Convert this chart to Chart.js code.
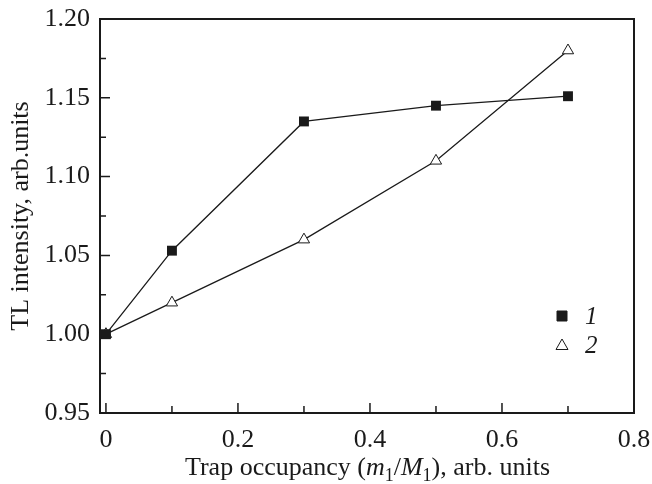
<!DOCTYPE html>
<html>
<head>
<meta charset="utf-8">
<script src="https://cdn.jsdelivr.net/npm/chart.js@4"></script>
<style>
html,body{margin:0;padding:0;background:#fff;}
#wrap{width:652px;height:484px;position:relative;}
</style>
</head>
<body>
<div id="wrap"><canvas id="c" width="652" height="484"></canvas></div>
<script>
const xValues = [0, 0.1, 0.3, 0.5, 0.7];
const series1 = [1.000, 1.053, 1.135, 1.145, 1.151];
const series2 = [1.000, 1.020, 1.060, 1.110, 1.180];
const seriesNames = ['1', '2'];
const xMajorTicks = [0, 0.2, 0.4, 0.6, 0.8];
const xMinorTicks = [0.1, 0.3, 0.5, 0.7];
const yMajorTicks = [0.95, 1.00, 1.05, 1.10, 1.15, 1.20];
const yMinorTicks = [0.975, 1.025, 1.075, 1.125, 1.175];

const FONT = '"Liberation Serif", "Times New Roman", serif';

const pts = (ys) => xValues.map((x, i) => ({x: x, y: ys[i]}));

const decor = {
  id: 'decor',
  afterDatasetsDraw(chart) {
    const ctx = chart.ctx;
    const a = chart.chartArea;
    const xs = chart.scales.x, ys = chart.scales.y;
    ctx.save();
    ctx.strokeStyle = '#1a1a1a';
    // frame
    ctx.lineWidth = 2;
    ctx.strokeRect(a.left, a.top, a.right - a.left, a.bottom - a.top);
    ctx.lineWidth = 1.5;
    ctx.beginPath();
    xMajorTicks.forEach(v => { const p = xs.getPixelForValue(v); ctx.moveTo(p, a.bottom); ctx.lineTo(p, a.bottom - 10); });
    xMinorTicks.forEach(v => { const p = xs.getPixelForValue(v); ctx.moveTo(p, a.bottom); ctx.lineTo(p, a.bottom - 7); });
    yMajorTicks.forEach(v => { const p = ys.getPixelForValue(v); ctx.moveTo(a.left, p); ctx.lineTo(a.left + 10, p); });
    yMinorTicks.forEach(v => { const p = ys.getPixelForValue(v); ctx.moveTo(a.left, p); ctx.lineTo(a.left + 6, p); });
    ctx.stroke();

    // Legend
    const lx = 562, ly = [316, 345];
    chart.data.datasets.forEach((ds, i) => {
      ctx.fillStyle = ds.pointBackgroundColor;
      ctx.strokeStyle = '#1a1a1a';
      ctx.lineWidth = 1;
      ctx.beginPath();
      if (ds.pointStyle === 'rect') {
        ctx.rect(lx - 5, ly[i] - 5, 10, 10);
      } else {
        ctx.moveTo(lx, ly[i] - 6); ctx.lineTo(lx + 6, ly[i] + 4.5); ctx.lineTo(lx - 6, ly[i] + 4.5); ctx.closePath();
      }
      ctx.fill(); ctx.stroke();
      ctx.fillStyle = '#1a1a1a';
      ctx.font = 'italic 25px ' + FONT;
      ctx.textAlign = 'left';
      ctx.textBaseline = 'middle';
      ctx.fillText(ds.label, lx + 23, ly[i] + 1);
    });

    // Y title
    ctx.save();
    ctx.translate(21, 216);
    ctx.rotate(-Math.PI / 2);
    ctx.font = '26px ' + FONT;
    ctx.textAlign = 'center';
    ctx.textBaseline = 'middle';
    ctx.fillStyle = '#1a1a1a';
    ctx.fillText('TL intensity, arb.units', 0, 0);
    ctx.restore();

    // X title with italics and subscripts
    const parts = [
      {t: 'Trap occupancy (', f: '26px ' + FONT, dy: 0},
      {t: 'm', f: 'italic 26px ' + FONT, dy: 0},
      {t: '1', f: '18px ' + FONT, dy: 6},
      {t: '/', f: '26px ' + FONT, dy: 0},
      {t: 'M', f: 'italic 26px ' + FONT, dy: 0},
      {t: '1', f: '18px ' + FONT, dy: 6},
      {t: '), arb. units', f: '26px ' + FONT, dy: 0}
    ];
    let total = 0;
    parts.forEach(p => { ctx.font = p.f; p.w = ctx.measureText(p.t).width; total += p.w; });
    let x = 367.5 - total / 2;
    const base = 475;
    ctx.textAlign = 'left';
    ctx.textBaseline = 'alphabetic';
    parts.forEach(p => { ctx.font = p.f; ctx.fillText(p.t, x, base + p.dy); x += p.w; });
    ctx.restore();
  }
};

new Chart(document.getElementById('c'), {
  type: 'scatter',
  data: {
    datasets: [
      {
        label: seriesNames[0], data: pts(series1), showLine: true,
        borderColor: '#1a1a1a', borderWidth: 1.3,
        pointStyle: 'rect', pointRadius: 7, pointBackgroundColor: '#1a1a1a', pointBorderColor: '#1a1a1a', pointBorderWidth: 0
      },
      {
        label: seriesNames[1], data: pts(series2), showLine: true,
        borderColor: '#1a1a1a', borderWidth: 1.3,
        pointStyle: 'triangle', pointRadius: 6.5, pointBackgroundColor: '#ffffff', pointBorderColor: '#1a1a1a', pointBorderWidth: 1
      }
    ]
  },
  options: {
    responsive: false,
    animation: false,
    layout: {padding: {left: 0, right: 18, top: 19, bottom: 0}},
    plugins: {legend: {display: false}, tooltip: {enabled: false}},
    scales: {
      x: {
        type: 'linear', min: -0.009, max: 0.8,
        afterFit: s => { s.height = 71; s.paddingLeft = 0; s.paddingRight = 0; },
        afterBuildTicks: s => { s.ticks = xMajorTicks.map(v => ({value: v})); },
        grid: {display: false, drawTicks: false},
        border: {display: false},
        ticks: {
          padding: 12, color: '#1a1a1a', font: {family: FONT, size: 26},
          callback: v => v === 0 ? '0' : String(+v.toFixed(1)),
          maxRotation: 0, autoSkip: false
        }
      },
      y: {
        type: 'linear', min: 0.95, max: 1.20,
        afterFit: s => { s.width = 100; s.paddingTop = 0; s.paddingBottom = 0; },
        afterBuildTicks: s => { s.ticks = yMajorTicks.map(v => ({value: v})); },
        grid: {display: false, drawTicks: false},
        border: {display: false},
        ticks: {
          padding: 10, color: '#1a1a1a', font: {family: FONT, size: 26},
          callback: v => v.toFixed(2)
        }
      }
    }
  },
  plugins: [decor]
});
</script>
</body>
</html>
